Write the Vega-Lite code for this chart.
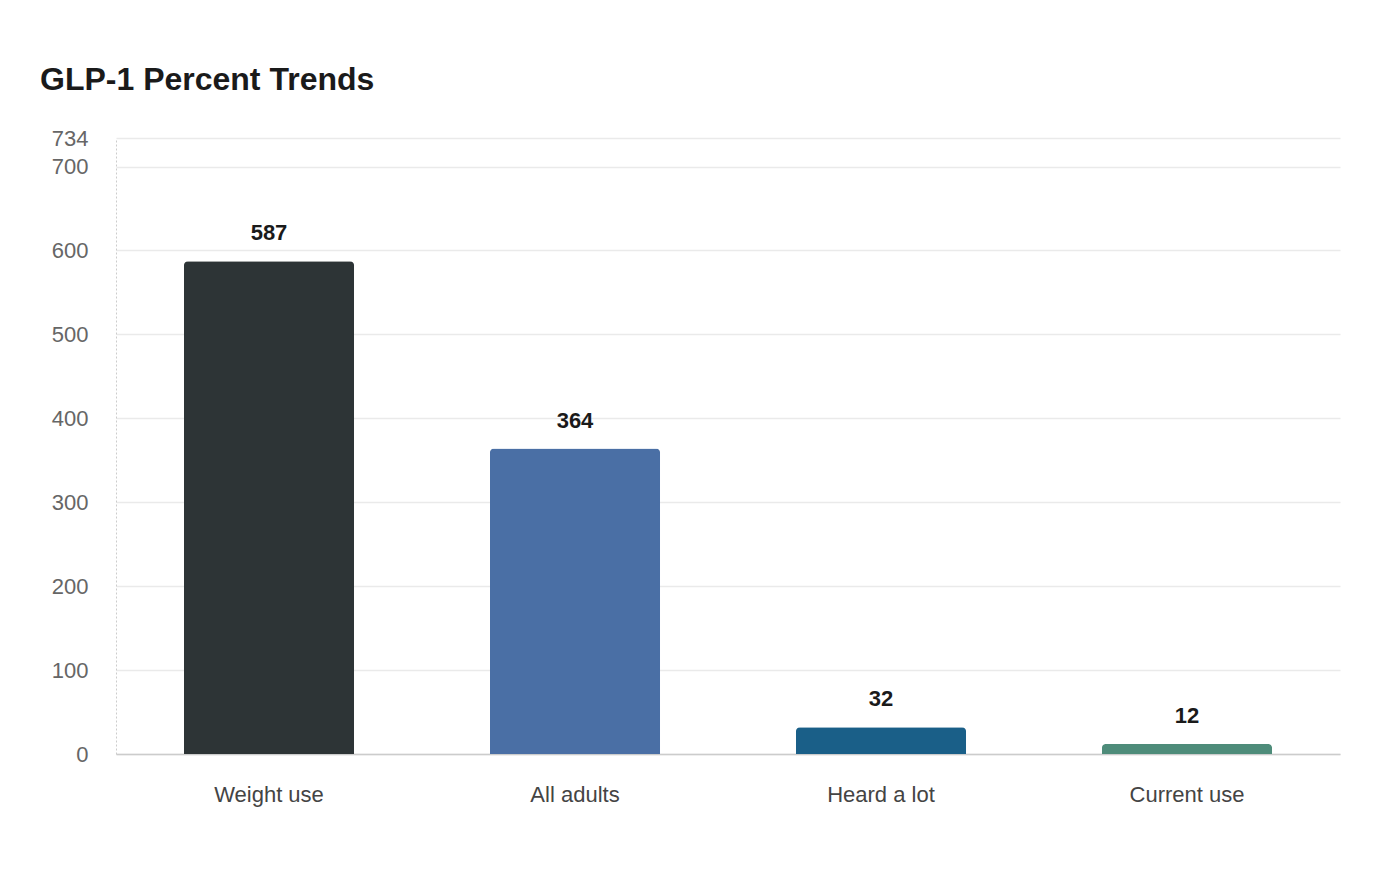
{
  "$schema": "https://vega.github.io/schema/vega-lite/v6.json",
  "width": 1224,
  "height": 616,
  "autosize": {"type": "none"},
  "padding": {"left": 116, "top": 138, "right": 60, "bottom": 126},
  "background": "#ffffff",
  "title": {
    "text": "GLP-1 Percent Trends",
    "anchor": "start",
    "frame": "group",
    "dx": -76,
    "offset": 5,
    "baseline": "alphabetic",
    "font": "Liberation Sans",
    "fontSize": 32,
    "fontWeight": "bold",
    "color": "#1a1a1a"
  },
  "data": {
    "values": [
      {"category": "Weight use", "value": 587},
      {"category": "All adults", "value": 364},
      {"category": "Heard a lot", "value": 32},
      {"category": "Current use", "value": 12}
    ]
  },
  "encoding": {
    "x": {
      "field": "category",
      "type": "nominal",
      "sort": null,
      "scale": {"paddingInner": 0.444, "paddingOuter": 0.222},
      "axis": {
        "title": null,
        "labelAngle": 0,
        "labelFont": "Liberation Sans",
        "labelFontSize": 22,
        "labelColor": "#444444",
        "labelPadding": 30,
        "ticks": false,
        "domainColor": "#cccccc",
        "domainWidth": 1.5,
        "grid": false
      }
    },
    "y": {
      "field": "value",
      "type": "quantitative",
      "scale": {"domain": [0, 734], "nice": false},
      "axis": {
        "title": null,
        "values": [0, 100, 200, 300, 400, 500, 600, 700, 734],
        "labelFont": "Liberation Sans",
        "labelFontSize": 22,
        "labelColor": "#666666",
        "labelPadding": 28,
        "ticks": false,
        "domainColor": "#cccccc",
        "domainDash": [2, 2],
        "gridColor": "#eaeaea",
        "gridWidth": 1.5
      }
    }
  },
  "layer": [
    {
      "mark": {"type": "bar", "cornerRadiusTopLeft": 4, "cornerRadiusTopRight": 4},
      "encoding": {
        "color": {
          "field": "category",
          "type": "nominal",
          "sort": null,
          "scale": {
            "domain": ["Weight use", "All adults", "Heard a lot", "Current use"],
            "range": ["#2d3436", "#4a6fa5", "#1a5f88", "#4e8c7a"]
          },
          "legend": null
        }
      }
    },
    {
      "mark": {
        "type": "text",
        "baseline": "alphabetic",
        "dy": -21,
        "font": "Liberation Sans",
        "fontSize": 22,
        "fontWeight": "bold",
        "color": "#1a1a1a"
      },
      "encoding": {"text": {"field": "value", "type": "quantitative"}}
    }
  ],
  "config": {"view": {"stroke": null}}
}
